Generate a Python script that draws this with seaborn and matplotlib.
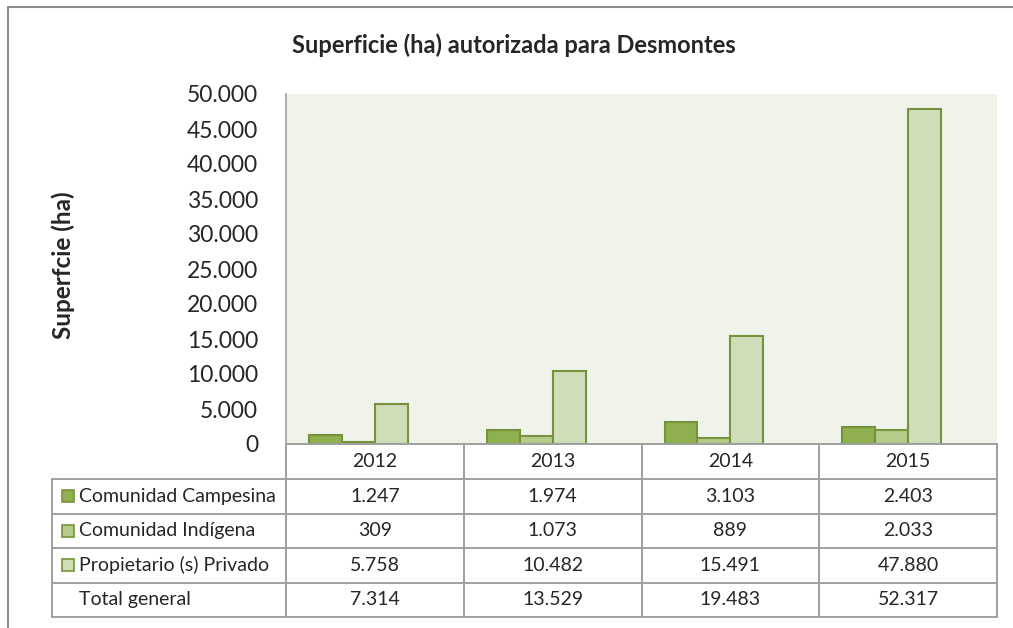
import seaborn as sns
import matplotlib.pyplot as plt
import matplotlib.ticker as mticker
import pandas as pd

years = ["2012", "2013", "2014", "2015"]
campesina = [1247, 1974, 3103, 2403]
indigena = [309, 1073, 889, 2033]
privado = [5758, 10482, 15491, 47880]
total = [7314, 13529, 19483, 52317]

series = ["Comunidad Campesina", "Comunidad Indígena", "Propietario (s) Privado", "Total general"]
colors = {"Comunidad Campesina": "#8fb04f",
          "Comunidad Indígena": "#b4cc89",
          "Propietario (s) Privado": "#d0ddb9",
          "Total general": "#ffffff"}
edge = "#76923c"


def fmt(v):
	return f"{int(v):,}".replace(",", ".")


def main():
	rows = []
	for name, vals in zip(series, [campesina, indigena, privado, total]):
		for y, v in zip(years, vals):
			rows.append({"year": y, "serie": name, "ha": v})
	df = pd.DataFrame(rows)

	sns.set_style("white")
	plt.rcParams['font.family'] = ['Lato', 'DejaVu Sans']

	W, H = 1013, 628
	fig = plt.figure(figsize=(W / 100, H / 100), dpi=100)
	x0, x1, y0, y1 = 286, 997, 94, 444
	ax = fig.add_axes([x0 / W, 1 - y1 / H, (x1 - x0) / W, (y1 - y0) / H])
	ax.set_facecolor("#eff3ea")

	sns.barplot(data=df, x="year", y="ha", hue="serie", hue_order=series,
				palette=colors, width=0.74, gap=0, edgecolor=edge, linewidth=1.5,
				saturation=1, legend=False, ax=ax)
	# Total general is kept as a hidden series, like in the original sheet
	for p in ax.containers[3]:
		p.set_visible(False)

	ax.set_xlim(-0.5, 3.5)
	ax.set_ylim(0, 50000)
	ax.yaxis.set_major_locator(mticker.MultipleLocator(5000))
	ax.yaxis.set_major_formatter(mticker.FuncFormatter(lambda v, p: fmt(v)))
	ax.tick_params(axis="y", labelsize=16.5, length=0, pad=20)
	ax.set_xticks([])
	ax.set_xlabel("")
	ax.set_ylabel("")
	for s in ["top", "right"]:
		ax.spines[s].set_visible(False)
	ax.spines["left"].set_color("#a0a0a0")
	ax.spines["bottom"].set_color("#a0a0a0")
	ax.spines["left"].set_linewidth(1.2)
	ax.spines["bottom"].set_linewidth(1.2)

	fig.text(514 / W, 1 - 45 / H, "Superficie (ha) autorizada para Desmontes",
			 ha="center", va="center", fontsize=17, fontweight="bold")
	fig.text(63 / W, 1 - 265 / H, "Superfcie (ha)", rotation=90,
			 ha="center", va="center", fontsize=17.5, fontweight="bold")

	# data table under the chart, drawn in pixel coords
	ov = fig.add_axes([0, 0, 1, 1])
	ov.set_xlim(0, W)
	ov.set_ylim(H, 0)
	ov.axis("off")
	ov.patch.set_alpha(0)

	lc = "#a0a0a0"
	lw = 1.4
	ov.plot([8, 8], [7, H], color="#8c8c8c", lw=1.5)
	ov.plot([8, W], [7, 7], color="#8c8c8c", lw=1.5)

	col_x = [286, 463.75, 641.5, 819.25, 997]
	row_y = [444, 479, 513.5, 548, 582.5, 617]
	left = 52
	for x in col_x:
		ov.plot([x, x], [row_y[0], row_y[-1]], color=lc, lw=lw)
	ov.plot([left, left], [row_y[1], row_y[-1]], color=lc, lw=lw)
	ov.plot([x0, x1], [row_y[0], row_y[0]], color=lc, lw=lw)
	for y in row_y[1:]:
		ov.plot([left, x1], [y, y], color=lc, lw=lw)

	fs = 14
	for i, yr in enumerate(years):
		cx = (col_x[i] + col_x[i + 1]) / 2
		ov.text(cx, (row_y[0] + row_y[1]) / 2, yr, ha="center", va="center", fontsize=fs)

	for r, (name, vals) in enumerate(zip(series, [campesina, indigena, privado, total])):
		cy = (row_y[r + 1] + row_y[r + 2]) / 2
		if name != "Total general":
			ov.add_patch(plt.Rectangle((62, cy - 6), 12, 12, facecolor=colors[name],
									   edgecolor=edge, lw=1.2))
		ov.text(79, cy, name, ha="left", va="center", fontsize=fs)
		for i, v in enumerate(vals):
			cx = (col_x[i] + col_x[i + 1]) / 2
			ov.text(cx, cy, fmt(v), ha="center", va="center", fontsize=fs)

	fig.savefig("out.png", dpi=100)


main()
